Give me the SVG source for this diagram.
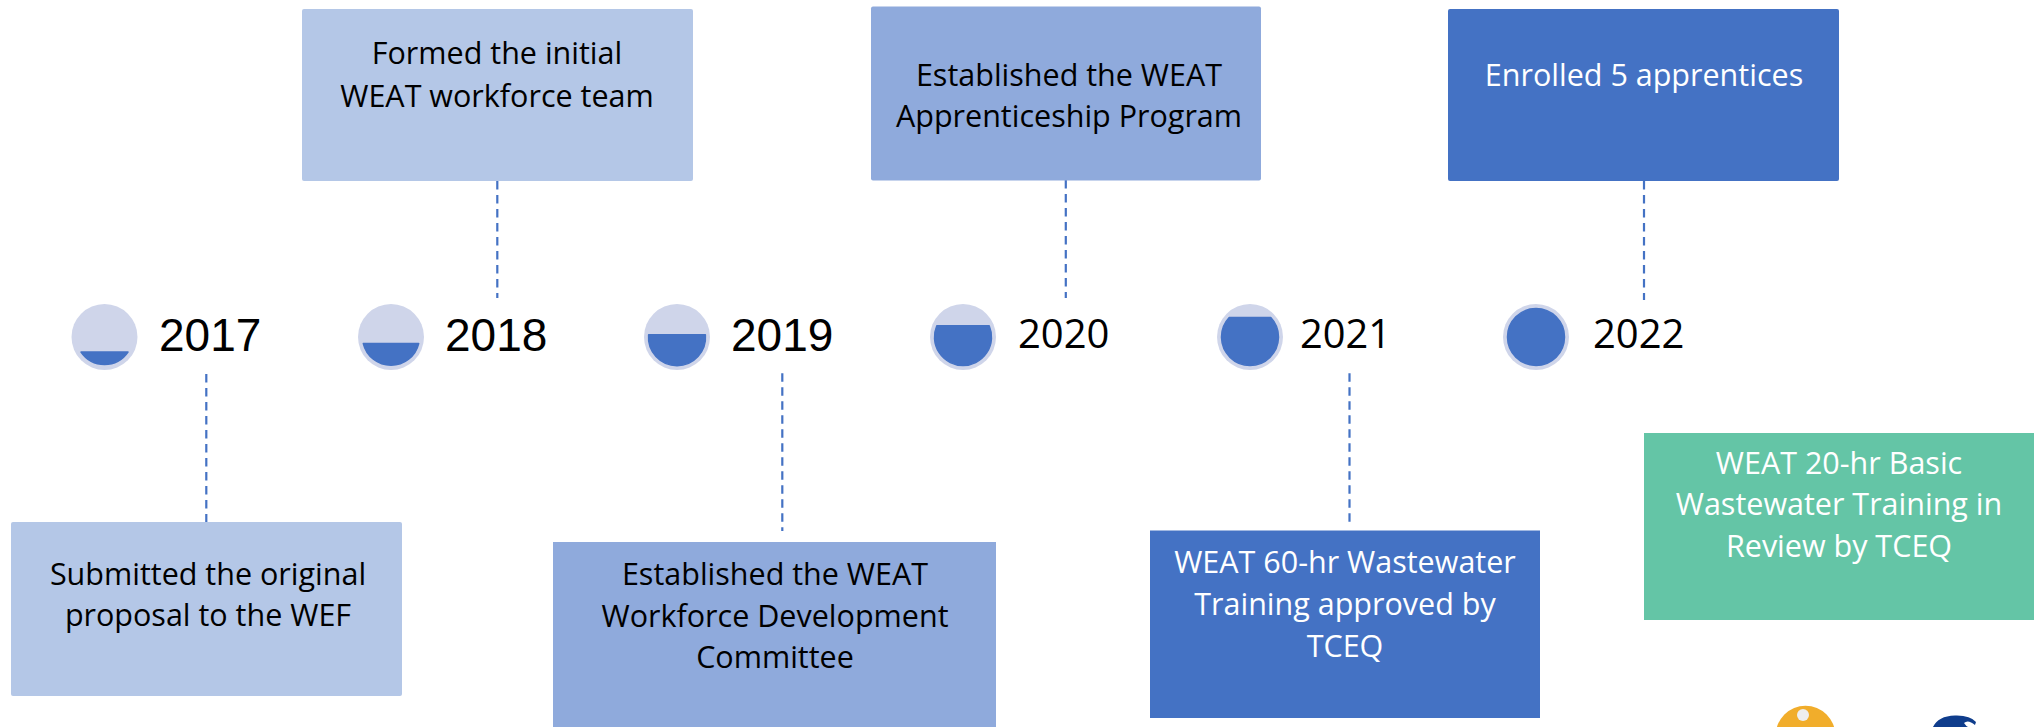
<svg xmlns="http://www.w3.org/2000/svg" width="2044" height="727" viewBox="0 0 2044 727">
<style>
.t{font-family:"Open Sans","Noto Sans",sans-serif;font-size:30.500px;text-anchor:middle}
.d{fill:#000}.w{fill:#fff}
.y1{font-family:"Liberation Sans",Arial,sans-serif;font-size:46px;fill:#000}
.y2{font-family:"Open Sans","Noto Sans",sans-serif;font-size:40px;fill:#000}
.c{fill:#cfd5ea}.f{fill:#4472c4;stroke:#4472c4;stroke-width:1.500;stroke-linejoin:round}
.l{stroke:#4472c4;stroke-width:2.200;stroke-dasharray:8.500 5.500;fill:none}
</style>
<rect width="2044" height="727" fill="#fff"/>
<g id="connectors">
<path class="l" d="M206.300 374V523"/><path class="l" d="M497.300 181V298"/><path class="l" d="M782.300 373.300V531"/><path class="l" d="M1065.800 180V298"/><path class="l" d="M1349.500 373.300V523"/><path class="l" d="M1644 181V300"/>
</g>
<g id="y2017"><circle class="c" cx="104.500" cy="337" r="33"/><path class="f" d="M128 352A28.500 28.500 0 0 1 81 352Z"/><text class="y1" x="159" y="351">2017</text></g>
<g id="y2018"><circle class="c" cx="391" cy="337" r="33"/><path class="f" d="M418.700 343.500A28.500 28.500 0 0 1 363.300 343.500Z"/><text class="y1" x="445" y="351">2018</text></g>
<g id="y2019"><circle class="c" cx="677" cy="337" r="33"/><path class="f" d="M705.400 334.800A28.500 28.500 0 1 1 648.600 334.800Z"/><text class="y1" x="731" y="351">2019</text></g>
<g id="y2020"><circle class="c" cx="963" cy="337" r="33"/><path class="f" d="M989.200 325.800A28.500 28.500 0 1 1 936.800 325.800Z"/><text class="y2" x="1018" y="348">2020</text></g>
<g id="y2021"><circle class="c" cx="1250" cy="337" r="33"/><path class="f" d="M1270.800 317.500A28.500 28.500 0 1 1 1229.200 317.500Z"/><text class="y2" x="1300" y="348" textLength="91" lengthAdjust="spacingAndGlyphs">2021</text></g>
<g id="y2022"><circle class="c" cx="1536" cy="337" r="33"/><circle class="f" cx="1536" cy="337" r="28.500"/><text class="y2" x="1593" y="348">2022</text></g>
<g id="b2017"><rect x="11" y="522" width="391" height="174" rx="2" fill="#b4c7e7"/><text class="t d" x="208" y="585">Submitted the original</text><text class="t d" x="208" y="626">proposal to the WEF</text></g>
<g id="b2018"><rect x="302" y="9" width="391" height="172" rx="2" fill="#b4c7e7"/><text class="t d" x="497" y="64">Formed the initial</text><text class="t d" x="497" y="107">WEAT workforce team</text></g>
<g id="b2019"><rect x="553" y="542" width="443" height="185" fill="#8faadc"/><text class="t d" x="775" y="585">Established the WEAT</text><text class="t d" x="775" y="627">Workforce Development</text><text class="t d" x="775" y="668">Committee</text></g>
<g id="b2020"><rect x="871" y="6.500" width="390" height="174" rx="2" fill="#8faadc"/><text class="t d" x="1069" y="86">Established the WEAT</text><text class="t d" x="1069" y="127">Apprenticeship Program</text></g>
<g id="b2021"><rect x="1150" y="530.500" width="390" height="187.500" fill="#4472c4"/><text class="t w" x="1345" y="573">WEAT 60-hr Wastewater</text><text class="t w" x="1345" y="615">Training approved by</text><text class="t w" x="1345" y="657">TCEQ</text></g>
<g id="b2022"><rect x="1448" y="9" width="391" height="172" rx="2" fill="#4472c4"/><text class="t w" x="1644" y="86">Enrolled 5 apprentices</text></g>
<g id="review"><rect x="1644" y="433" width="390" height="187" fill="#64c5a6"/><text class="t w" x="1839" y="474">WEAT 20-hr Basic</text><text class="t w" x="1839" y="515">Wastewater Training in</text><text class="t w" x="1839" y="557">Review by TCEQ</text></g>
<g id="logos"><circle cx="1805.500" cy="735.500" r="29.800" fill="#f1ad2b"/><circle cx="1803" cy="715" r="6" fill="#eee"/><path d="M1933 727Q1938 716 1955 715.500Q1970 715 1976 722L1975 725Q1968 719 1964 723Q1966 726 1968 727Z" fill="#0f3d8c"/></g>
</svg>
